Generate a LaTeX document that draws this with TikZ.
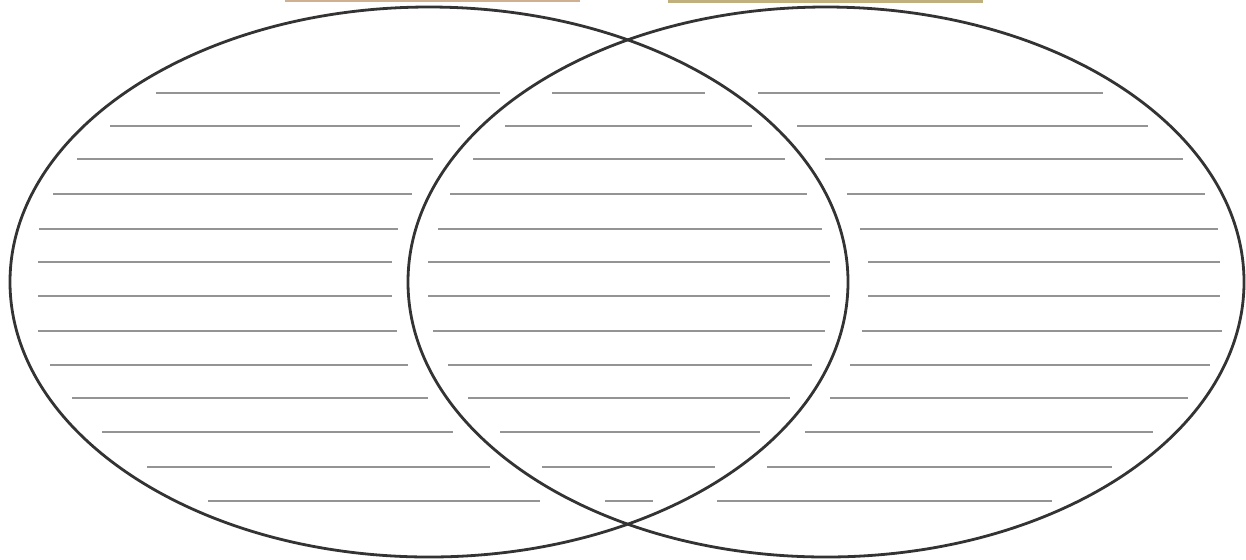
\documentclass[tikz,border=0pt]{standalone}
\begin{document}
\begin{tikzpicture}[x=0.5pt,y=-0.5pt,
  ruleline/.style={draw=black!42,line width=1.1pt},
  venn/.style={draw=black!80,line width=1.4pt}]
\useasboundingbox (0,0) rectangle (1246,559);
\fill[white] (0,0) rectangle (1246,559);
% title bars at the top
\fill[fill={rgb,255:red,208;green,176;blue,146}] (285,0) rectangle (580,1.8);
\fill[fill={rgb,255:red,192;green,176;blue,128}] (668,0) rectangle (983,3.2);
% ruled lines: y, left seg, middle seg, right seg
\foreach \y/\a/\b/\c/\d/\e/\f in {
  93/156/500/552/705/758/1103,
  126/110/460/505/752/797/1148,
  159/77/433/473/785/825/1183,
  194/53/412/450/807/847/1205,
  229/39/398/438/822/860/1218,
  262/38/392/428/830/868/1220,
  296/38/392/428/830/868/1220,
  331/38/397/433/825/862/1222,
  365/50/408/448/812/850/1210,
  398/72/428/468/790/830/1188,
  432/102/453/500/760/805/1153,
  467/147/490/542/715/767/1112,
  501/208/540/605/653/717/1052}{
  \draw[ruleline] (\a,\y) -- (\b,\y);
  \draw[ruleline] (\c,\y) -- (\d,\y);
  \draw[ruleline] (\e,\y) -- (\f,\y);
}
% the two circles
\draw[venn] (429,282) ellipse [x radius=419, y radius=275];
\draw[venn] (826,282) ellipse [x radius=418, y radius=275];
\end{tikzpicture}
\end{document}
